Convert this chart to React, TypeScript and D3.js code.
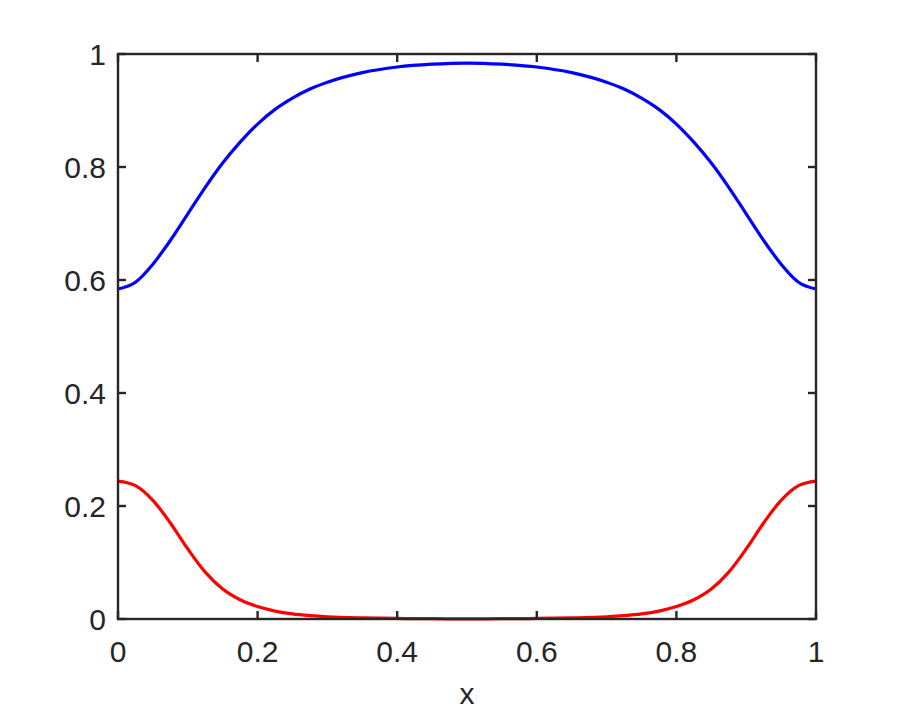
import React, { useEffect, useRef } from 'react'
import * as d3 from 'd3'

// x samples and the two curves
const xs = [0, 0.025, 0.05, 0.075, 0.1, 0.125, 0.15, 0.175, 0.2, 0.225, 0.25, 0.275, 0.3, 0.35, 0.4, 0.45, 0.5,
  0.55, 0.6, 0.65, 0.7, 0.725, 0.75, 0.775, 0.8, 0.825, 0.85, 0.875, 0.9, 0.925, 0.95, 0.975, 1]
const blue = [0.584, 0.596, 0.628, 0.670, 0.717, 0.764, 0.807, 0.844, 0.876, 0.902, 0.922, 0.938, 0.950, 0.967, 0.977, 0.982, 0.984,
  0.982, 0.977, 0.967, 0.950, 0.938, 0.922, 0.902, 0.876, 0.844, 0.807, 0.764, 0.717, 0.670, 0.628, 0.596, 0.584]
const red = [0.244, 0.236, 0.210, 0.170, 0.124, 0.083, 0.053, 0.034, 0.022, 0.014, 0.009, 0.006, 0.004, 0.002, 0.001, 0.0005, 0.0003,
  0.0005, 0.001, 0.002, 0.004, 0.006, 0.009, 0.014, 0.022, 0.034, 0.053, 0.083, 0.124, 0.170, 0.210, 0.236, 0.244]
const xTicks = [0, 0.2, 0.4, 0.6, 0.8, 1]
const yTicks = [0, 0.2, 0.4, 0.6, 0.8, 1]

const W = 902
const H = 716
const margin = { left: 118, right: 86, top: 54, bottom: 97 }
const axisColor = '#262626'
const font = '"Liberation Sans", Arial, sans-serif'
const fontSize = 30

export default function App() {
  const ref = useRef<SVGSVGElement>(null)

  useEffect(() => {
    const svg = d3.select(ref.current!)
    svg.selectAll('*').remove()

    const x = d3.scaleLinear().domain([0, 1]).range([margin.left, W - margin.right])
    const y = d3.scaleLinear().domain([0, 1]).range([H - margin.bottom, margin.top])
    const [x0, x1] = x.range()
    const [y0, y1] = y.range()
    const tickLen = 8

    const line = d3.line<[number, number]>()
      .x(d => x(d[0]))
      .y(d => y(d[1]))
      .curve(d3.curveMonotoneX)

    const series = [
      { vals: blue, color: '#0000ff' },
      { vals: red, color: '#ff0000' },
    ]
    series.forEach(s => {
      svg.append('path')
        .attr('d', line(xs.map((v, i) => [v, s.vals[i]] as [number, number])))
        .attr('fill', 'none')
        .attr('stroke', s.color)
        .attr('stroke-width', 3.2)
    })

    const g = svg.append('g').attr('stroke', axisColor).attr('stroke-width', 2.4)
    // ticks on all four sides, pointing inward
    xTicks.forEach(t => {
      g.append('line').attr('x1', x(t)).attr('x2', x(t)).attr('y1', y0).attr('y2', y0 - tickLen)
      g.append('line').attr('x1', x(t)).attr('x2', x(t)).attr('y1', y1).attr('y2', y1 + tickLen)
    })
    yTicks.forEach(t => {
      g.append('line').attr('x1', x0).attr('x2', x0 + tickLen).attr('y1', y(t)).attr('y2', y(t))
      g.append('line').attr('x1', x1).attr('x2', x1 - tickLen).attr('y1', y(t)).attr('y2', y(t))
    })
    g.append('rect')
      .attr('x', x0).attr('y', y1)
      .attr('width', x1 - x0).attr('height', y0 - y1)
      .attr('fill', 'none')
      .attr('stroke-linejoin', 'miter')

    const fmt = (v: number) => (v === 0 || v === 1 ? String(v) : d3.format('.1f')(v))

    svg.append('g')
      .selectAll('text')
      .data(xTicks)
      .enter()
      .append('text')
      .attr('x', d => x(d))
      .attr('y', y0 + 43)
      .attr('text-anchor', 'middle')
      .attr('fill', axisColor)
      .style('font', `${fontSize}px ${font}`)
      .text(fmt)

    svg.append('g')
      .selectAll('text')
      .data(yTicks)
      .enter()
      .append('text')
      .attr('x', x0 - 12)
      .attr('y', d => y(d) + 11)
      .attr('text-anchor', 'end')
      .attr('fill', axisColor)
      .style('font', `${fontSize}px ${font}`)
      .text(fmt)

    svg.append('text')
      .attr('x', (x0 + x1) / 2)
      .attr('y', y0 + 85)
      .attr('text-anchor', 'middle')
      .attr('fill', axisColor)
      .style('font', `${fontSize}px ${font}`)
      .text('x')
  }, [])

  return (
    <svg ref={ref} width={W} height={H} style={{ position: 'absolute', left: 0, top: 0, background: '#fff' }} />
  )
}
